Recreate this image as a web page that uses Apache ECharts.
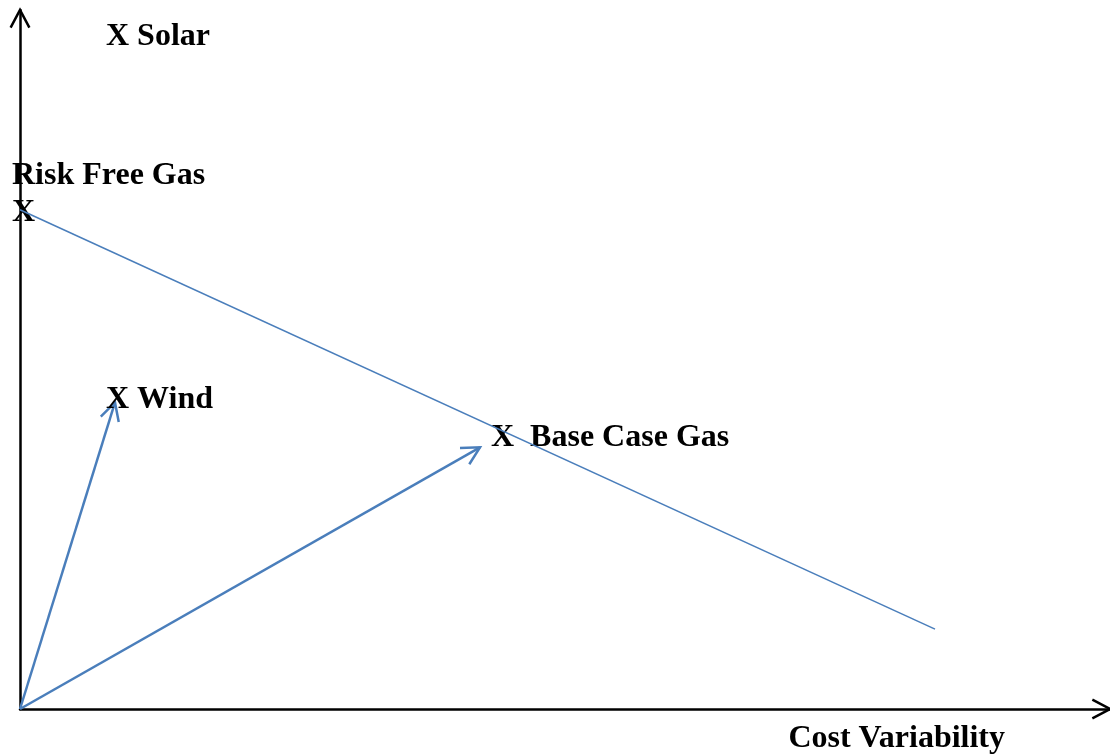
<!DOCTYPE html>
<html>
<head>
<meta charset="utf-8">
<script src="https://cdn.jsdelivr.net/npm/echarts@6/dist/echarts.min.js"></script>
<style>html,body{margin:0;padding:0;background:#fff}#c{width:1110px;height:755px}</style>
</head>
<body>
<div id="c"></div>
<script>
// ---- data ----
const lineX = [0, 91.5];
const lineY = [50, 8];
const vectorStartX = [0, 0];
const vectorStartY = [0, 0];
const vectorEndX = [9.5, 46];
const vectorEndY = [30.7, 26.2];
const pointNames = ['X Solar', 'Risk Free Gas\nX', 'X Wind', 'X  Base Case Gas'];
const pointX = [9.7, 0.1, 9.7, 48.2];
const pointY = [67.65, 50, 31.25, 27.45];
const xAxisName = 'Cost Variability';
const X_MAX = 109, Y_MAX = 70;

// ---- chart ----
const BLUE = '#4a7ebb';
const FONT = '"Liberation Serif", "DejaVu Serif", serif';
const chart = echarts.init(document.getElementById('c'), null, {renderer: 'canvas'});

function arrowRender(color, width, drawShaft) {
  return function (params, api) {
    const p0 = api.coord([api.value(0), api.value(1)]);
    const p1 = api.coord([api.value(2), api.value(3)]);
    const ang = Math.atan2(p0[1] - p1[1], p0[0] - p1[0]);
    const L = 20, a = 28 * Math.PI / 180;
    const w1 = [p1[0] + L * Math.cos(ang + a), p1[1] + L * Math.sin(ang + a)];
    const w2 = [p1[0] + L * Math.cos(ang - a), p1[1] + L * Math.sin(ang - a)];
    const style = {stroke: color, lineWidth: width, fill: null};
    const children = [];
    if (drawShaft) children.push({type: 'line', shape: {x1: p0[0], y1: p0[1], x2: p1[0], y2: p1[1]}, style: style});
    children.push({type: 'polyline', shape: {points: [w1, p1, w2]}, style: style});
    return {type: 'group', children: children};
  };
}

const vectorData = vectorEndX.map((x, i) => [vectorStartX[i], vectorStartY[i], x, vectorEndY[i]]);
const axisHeadData = [[0, 0, X_MAX, 0], [0, 0, 0, Y_MAX]];

chart.setOption({
  animation: false,
  grid: {left: 20, right: 0, top: 10, bottom: 45, containLabel: false},
  xAxis: {
    type: 'value', min: 0, max: X_MAX,
    axisLine: {show: true, lineStyle: {color: '#000', width: 2.5}},
    axisTick: {show: false}, axisLabel: {show: false}, splitLine: {show: false},
    name: xAxisName, nameLocation: 'end', nameGap: -105,
    nameTextStyle: {fontFamily: FONT, fontWeight: 'bold', fontSize: 32, color: '#000',
      align: 'right', verticalAlign: 'top', padding: [14, 0, 0, 0]}
  },
  yAxis: {
    type: 'value', min: 0, max: Y_MAX,
    axisLine: {show: true, lineStyle: {color: '#000', width: 2.5}},
    axisTick: {show: false}, axisLabel: {show: false}, splitLine: {show: false}
  },
  series: [
    {
      type: 'line', data: lineX.map((x, i) => [x, lineY[i]]),
      symbol: 'none', lineStyle: {color: BLUE, width: 1.5}, silent: true
    },
    {
      type: 'custom', clip: false, data: vectorData,
      encode: {x: [0, 2], y: [1, 3]},
      renderItem: arrowRender(BLUE, 2.5, true)
    },
    {
      type: 'custom', clip: false, data: axisHeadData,
      encode: {x: [0, 2], y: [1, 3]},
      renderItem: arrowRender('#000', 2.5, false)
    },
    {
      type: 'scatter', symbolSize: 0,
      itemStyle: {opacity: 1},
      data: pointNames.map((n, i) => ({
        name: n, value: [pointX[i], pointY[i]],
        label: n.indexOf('\n') >= 0 ? {position: [-9, -15.5], lineHeight: 37} : {position: [-11, 3]}
      })),
      label: {
        show: true, formatter: p => p.name, align: 'left', verticalAlign: 'middle',
        fontFamily: FONT, fontWeight: 'bold', fontSize: 32, color: '#000', opacity: 1
      },
      silent: true
    }
  ]
});
</script>
</body>
</html>
